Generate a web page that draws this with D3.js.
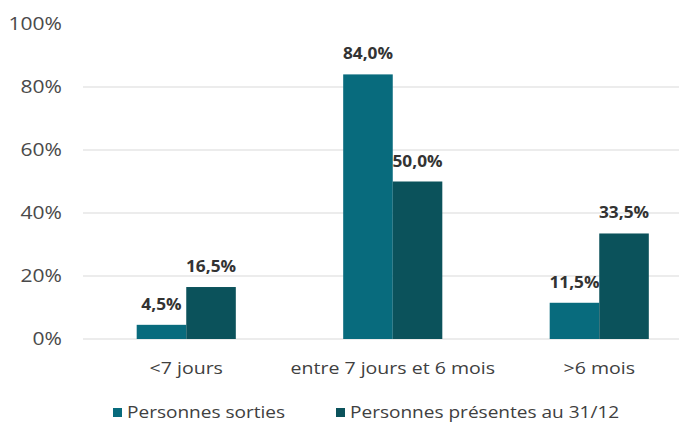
<!DOCTYPE html>
<html>
<head>
<meta charset="utf-8">
<script src="https://cdn.jsdelivr.net/npm/d3@7"></script>
<style>
  html, body { margin: 0; padding: 0; background: #fff; }
  svg { display: block; }
  text { font-family: "Open Sans", "Noto Sans", sans-serif; }
</style>
</head>
<body>
<svg id="chart" width="679" height="425"></svg>
<script>
// Durée de séjour : répartition des personnes (en %)
const categories = ["<7 jours", "entre 7 jours et 6 mois", ">6 mois"];
const seriesNames = ["Personnes sorties", "Personnes présentes au 31/12"];
const sorties = [4.5, 84.0, 11.5];
const presentes = [16.5, 50.0, 33.5];
const yTicks = [0, 20, 40, 60, 80, 100];
const colors = ["#086b7d", "#0b525b"];

// Text is drawn slightly widened horizontally (wide humanist look)
const SX_TICK = 1.17, SX_CAT = 1.15, SX_LEG = 1.19, SX_VAL = 1.08;

const svg = d3.select("#chart");

const x = d3.scaleBand()
  .domain(categories)
  .range([83, 702.5])
  .paddingInner(0.52)
  .paddingOuter(0.26);

const xSeries = d3.scaleBand()
  .domain(seriesNames)
  .range([0, x.bandwidth()]);

const y = d3.scaleLinear().domain([0, 100]).range([339, 24]);

const fmt = v => d3.format(".1f")(v).replace(".", ",") + "%";

// Grid lines
svg.append("g")
  .selectAll("line")
  .data(yTicks.filter(t => t < 100))
  .join("line")
  .attr("x1", 83).attr("x2", 679)
  .attr("y1", d => y(d)).attr("y2", d => y(d))
  .attr("stroke", "#d9d9d9").attr("stroke-width", 1);

// Y axis labels
const yAxis = d3.axisLeft(y).tickValues(yTicks).tickSize(0).tickPadding(0)
  .tickFormat(d => d + "%");
const gy = svg.append("g").attr("transform", "translate(62,0)").call(yAxis);
gy.select(".domain").remove();
gy.selectAll("text")
  .attr("x", 0)
  .attr("font-size", 18).attr("fill", "#4a4a4a")
  .style("font-family", "'Open Sans', sans-serif")
  .attr("transform", `scale(${SX_TICK},1)`);

// Bars
const data = categories.map((c, i) => ({
  cat: c,
  values: [
    { name: seriesNames[0], v: sorties[i], color: colors[0] },
    { name: seriesNames[1], v: presentes[i], color: colors[1] }
  ]
}));

const groups = svg.append("g").selectAll("g")
  .data(data).join("g")
  .attr("transform", d => `translate(${x(d.cat)},0)`);

groups.selectAll("rect")
  .data(d => d.values).join("rect")
  .attr("x", d => xSeries(d.name))
  .attr("width", xSeries.bandwidth())
  .attr("y", d => y(d.v))
  .attr("height", d => y(0) - y(d.v))
  .attr("fill", d => d.color);

groups.selectAll("text.val")
  .data(d => d.values).join("text")
  .attr("class", "val")
  .attr("transform", d =>
    `translate(${xSeries(d.name) + xSeries.bandwidth() / 2},${y(d.v) - 15}) scale(${SX_VAL},1)`)
  .attr("text-anchor", "middle")
  .attr("font-size", 16).attr("font-weight", "bold")
  .attr("fill", "#333")
  .text(d => fmt(d.v));

// Category labels
const xAxis = d3.axisBottom(x).tickSize(0).tickPadding(0);
const gx = svg.append("g").attr("transform", "translate(0,362)").call(xAxis);
gx.select(".domain").remove();
gx.selectAll("text")
  .attr("font-size", 17).attr("fill", "#404040")
  .style("font-family", "'Open Sans', sans-serif")
  .attr("transform", `scale(${SX_CAT},1)`);

// Legend
const legendX = [113, 336];
const legend = svg.append("g").selectAll("g")
  .data(seriesNames).join("g")
  .attr("transform", (d, i) => `translate(${legendX[i]},408)`);
legend.append("rect")
  .attr("width", 9).attr("height", 9).attr("y", 0)
  .attr("fill", (d, i) => colors[i]);
legend.append("text")
  .attr("transform", `translate(14,10) scale(${SX_LEG},1)`)
  .attr("font-size", 16).attr("fill", "#404040")
  .text(d => d);
</script>
</body>
</html>
